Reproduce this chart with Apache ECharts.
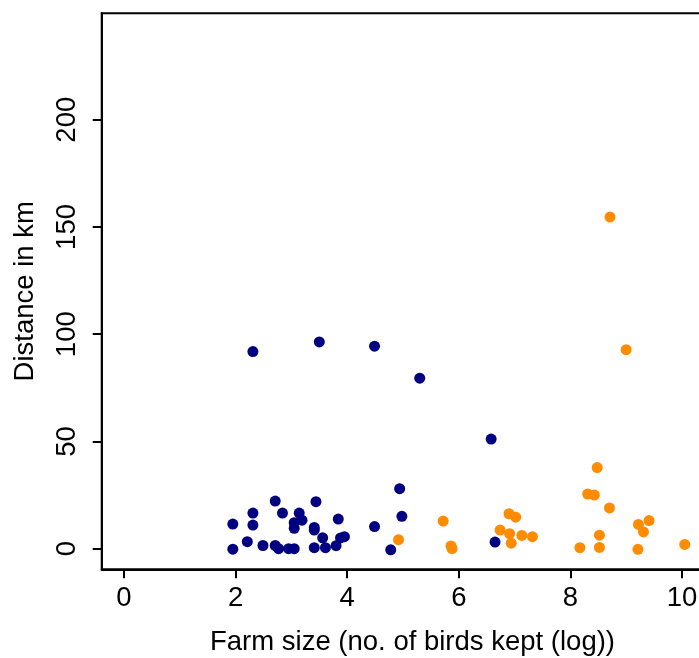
<!DOCTYPE html>
<html>
<head>
<meta charset="utf-8">
<script src="https://cdn.jsdelivr.net/npm/echarts@6/dist/echarts.min.js"></script>
<style>
html,body{margin:0;padding:0;background:#fff;}
#chart{width:699px;height:658px;}
</style>
</head>
<body>
<div id="chart"></div>
<script>
// Small farms (navy)
var smallX = [2.31, 3.50, 4.49, 5.30, 6.58, 2.71, 3.44, 2.31, 2.84, 3.14, 1.95, 2.31, 3.05, 3.19, 3.05, 3.41, 3.41, 3.84, 4.49, 3.56, 3.88, 3.95, 1.95, 2.21, 2.49, 2.71, 2.77, 2.95, 3.05, 3.41, 3.61, 3.80, 4.94, 4.98, 4.78, 6.65];
var smallY = [91.9, 96.4, 94.4, 79.5, 51.1, 22.2, 21.9, 16.6, 16.6, 16.6, 11.5, 11.0, 12.1, 13.3, 9.5, 9.9, 8.7, 13.8, 10.3, 5.1, 5.0, 5.6, -0.2, 3.3, 1.5, 1.5, 0.0, 0.0, 0.0, 0.5, 0.5, 1.4, 28.0, 15.1, -0.5, 3.1];
// Large farms (orange)
var largeX = [4.92, 5.72, 5.86, 5.88, 6.74, 6.90, 7.02, 6.91, 6.94, 7.13, 7.32, 8.17, 8.31, 8.43, 8.48, 8.70, 8.52, 8.52, 9.21, 9.22, 9.41, 9.31, 10.05, 8.71, 9.00];
var largeY = [4.2, 12.9, 1.3, 0.0, 8.7, 16.3, 14.7, 7.0, 2.6, 6.2, 5.6, 0.5, 25.5, 25.0, 37.8, 19.0, 6.3, 0.6, -0.3, 11.3, 13.1, 7.8, 2.0, 154.6, 92.8];
var xTicks = [0, 2, 4, 6, 8, 10];
var yTicks = [0, 50, 100, 150, 200];

function pairs(xs, ys) { return xs.map(function (x, i) { return [x, ys[i]]; }); }

var font = '"Liberation Sans", Arial, sans-serif';
var fs = 27.5;
var chart = echarts.init(document.getElementById('chart'), null, {renderer: 'canvas'});
chart.setOption({
  animation: false,
  backgroundColor: '#ffffff',
  grid: {
    left: 101.7, top: 13.3, width: 602.6, height: 556,
    containLabel: false, outerBoundsMode: 'none',
    show: true, borderColor: '#000', borderWidth: 2, backgroundColor: 'transparent'
  },
  xAxis: {
    type: 'value', min: -0.4, max: 10.4,
    name: 'Farm size (no. of birds kept (log))',
    nameLocation: 'middle', nameGap: 59,
    nameTextStyle: {fontFamily: font, fontSize: fs, color: '#000', padding: [0, 0, 0, 19]},
    axisLine: {show: true, onZero: false, lineStyle: {color: '#000', width: 2}},
    axisTick: {show: true, inside: false, length: 9, customValues: xTicks, lineStyle: {color: '#000', width: 2}},
    axisLabel: {show: true, customValues: xTicks, margin: 15, fontFamily: font, fontSize: fs, color: '#000'},
    splitLine: {show: false}
  },
  yAxis: {
    type: 'value', min: -9.6, max: 249.6,
    name: 'Distance in km',
    nameLocation: 'middle', nameGap: 62,
    nameTextStyle: {fontFamily: font, fontSize: fs, color: '#000'},
    axisLine: {show: true, onZero: false, lineStyle: {color: '#000', width: 2}},
    axisTick: {show: true, inside: false, length: 9, customValues: yTicks, lineStyle: {color: '#000', width: 2}},
    axisLabel: {show: true, customValues: yTicks, rotate: 90, margin: 20, fontFamily: font, fontSize: fs, color: '#000'},
    splitLine: {show: false}
  },
  series: [
    {type: 'scatter', data: pairs(smallX, smallY), symbol: 'circle', symbolSize: 11,
     itemStyle: {color: '#000080', opacity: 1}, clip: false},
    {type: 'scatter', data: pairs(largeX, largeY), symbol: 'circle', symbolSize: 11,
     itemStyle: {color: '#FF8C00', opacity: 1}, clip: false}
  ]
});
</script>
</body>
</html>
